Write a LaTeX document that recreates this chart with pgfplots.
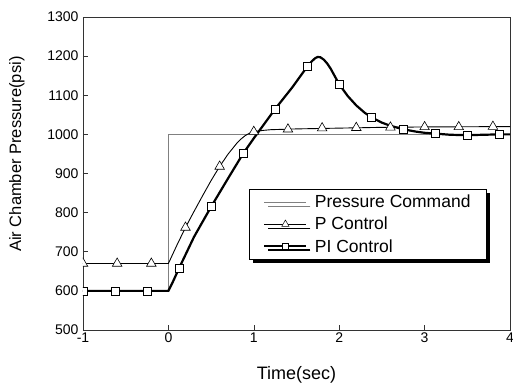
\documentclass[border=0pt]{standalone}
\usepackage{pgfplots}
\pgfplotsset{compat=1.18}
\usepackage{fontspec}
\setmainfont{Liberation Sans}
\usetikzlibrary{shadows}
\definecolor{cmdgray}{gray}{0.5}
\begin{document}
\begin{tikzpicture}
\begin{axis}[
  scale only axis,
  width=427pt, height=313pt,
  xmin=-1, xmax=4, ymin=500, ymax=1300,
  xtick={-1,0,1,2,3,4},
  xticklabels={-1,0,1,2,3,4},
  ytick={500,600,700,800,900,1000,1100,1200,1300},
  yticklabels={500,600,700,800,900,1000,1100,1200,1300},
  tick align=inside,
  xtick pos=bottom, ytick pos=left,
  major tick length=5pt,
  tick style={black!80, line width=0.6pt},
  axis line style={black!80, line width=0.7pt},
  ticklabel style={font=\fontsize{14}{16}\selectfont},
  xticklabel style={yshift=1pt},
  yticklabel style={xshift=-1pt},
  xlabel={Time(sec)},
  ylabel={Air Chamber Pressure(psi)},
  xlabel style={font=\fontsize{18}{20}\selectfont, at={(axis description cs:0.5,-0.105)}, anchor=north},
  ylabel style={font=\fontsize{16.5}{19}\selectfont, at={(axis description cs:-0.155,0.562)}, anchor=center},
  clip marker paths=true,
  legend image code/.code={\draw[mark repeat=2,mark phase=2,#1] plot coordinates {(0pt,0pt) (21pt,0pt) (42pt,0pt)};},
  legend cell align=left,
  legend style={at={(axis description cs:0.389,0.45)}, anchor=north west,
    font=\fontsize{17.5}{19}\selectfont,
    draw=black, line width=0.6pt, fill=white,
    drop shadow={shadow xshift=4pt, shadow yshift=-4pt, fill=black, opacity=1},
    inner xsep=14pt, inner ysep=4pt, row sep=5pt,
    nodes={inner sep=1.5pt},
    /tikz/every odd column/.append style={column sep=6pt}},
]
% Pressure command
\addplot[cmdgray, line width=0.9pt] coordinates {(-1,600) (0,600) (0,1000) (4,1000)};
\addlegendentry{Pressure Command}
% P control line
\addplot[black, line width=0.9pt, forget plot] coordinates {
(-1,670) (0,670) (0.1,717) (0.2,762) (0.3,803) (0.4,843) (0.5,882) (0.6,918)
(0.7,950) (0.8,977) (0.85,988) (0.9,997) (0.95,1003) (1.0,1007) (1.1,1010)
(1.2,1012) (1.5,1014) (2.0,1016) (2.5,1018) (3.0,1019) (4.0,1020)};
% PI control line
\addplot[black, line width=2.2pt, forget plot] coordinates {
(-1,600) (0,600) (0.05,622) (0.125,658) (0.3,738) (0.5,815) (0.7,888) (0.875,951)
(1.0,990) (1.25,1065) (1.45,1120) (1.625,1173) (1.68,1187) (1.72,1195) (1.75,1198)
(1.78,1197) (1.82,1191) (1.86,1181) (1.9,1168) (1.95,1148) (2.0,1128) (2.1,1098)
(2.2,1074) (2.3,1055) (2.375,1044) (2.5,1030) (2.6,1022) (2.75,1013) (2.9,1007)
(3.0,1004) (3.125,1002) (3.3,999) (3.5,998) (3.875,1000) (4,1000)};
% P marks
\addplot[only marks, mark=triangle*, mark size=5.5pt, mark options={fill=white, draw=black, line width=0.6pt}, forget plot] coordinates {
(-1,670) (-0.6,670) (-0.2,670) (0.2,762) (0.6,918) (1.0,1007) (1.4,1013) (1.8,1016)
(2.2,1017) (2.6,1018) (3.0,1019) (3.4,1019) (3.8,1020)};
% PI marks
\addplot[only marks, mark=square*, mark size=4pt, mark options={fill=white, draw=black, line width=0.6pt}, forget plot] coordinates {
(-1,600) (-0.625,600) (-0.25,600) (0.125,658) (0.5,815) (0.875,951) (1.25,1065)
(1.625,1173) (2.0,1128) (2.375,1044) (2.75,1013) (3.125,1002) (3.5,998) (3.875,1000)};
\addlegendimage{black, line width=0.9pt, mark=triangle*, mark size=4.2pt, mark options={fill=white, line width=0.5pt}}
\addlegendentry{P Control}
\addlegendimage{black, line width=2pt, mark=square*, mark size=3.2pt, mark options={fill=white, line width=0.5pt}}
\addlegendentry{PI Control}
\end{axis}
\pgfresetboundingbox
\path[use as bounding box] (-83pt,-53pt) rectangle (430pt,330pt);
\end{tikzpicture}
\end{document}
